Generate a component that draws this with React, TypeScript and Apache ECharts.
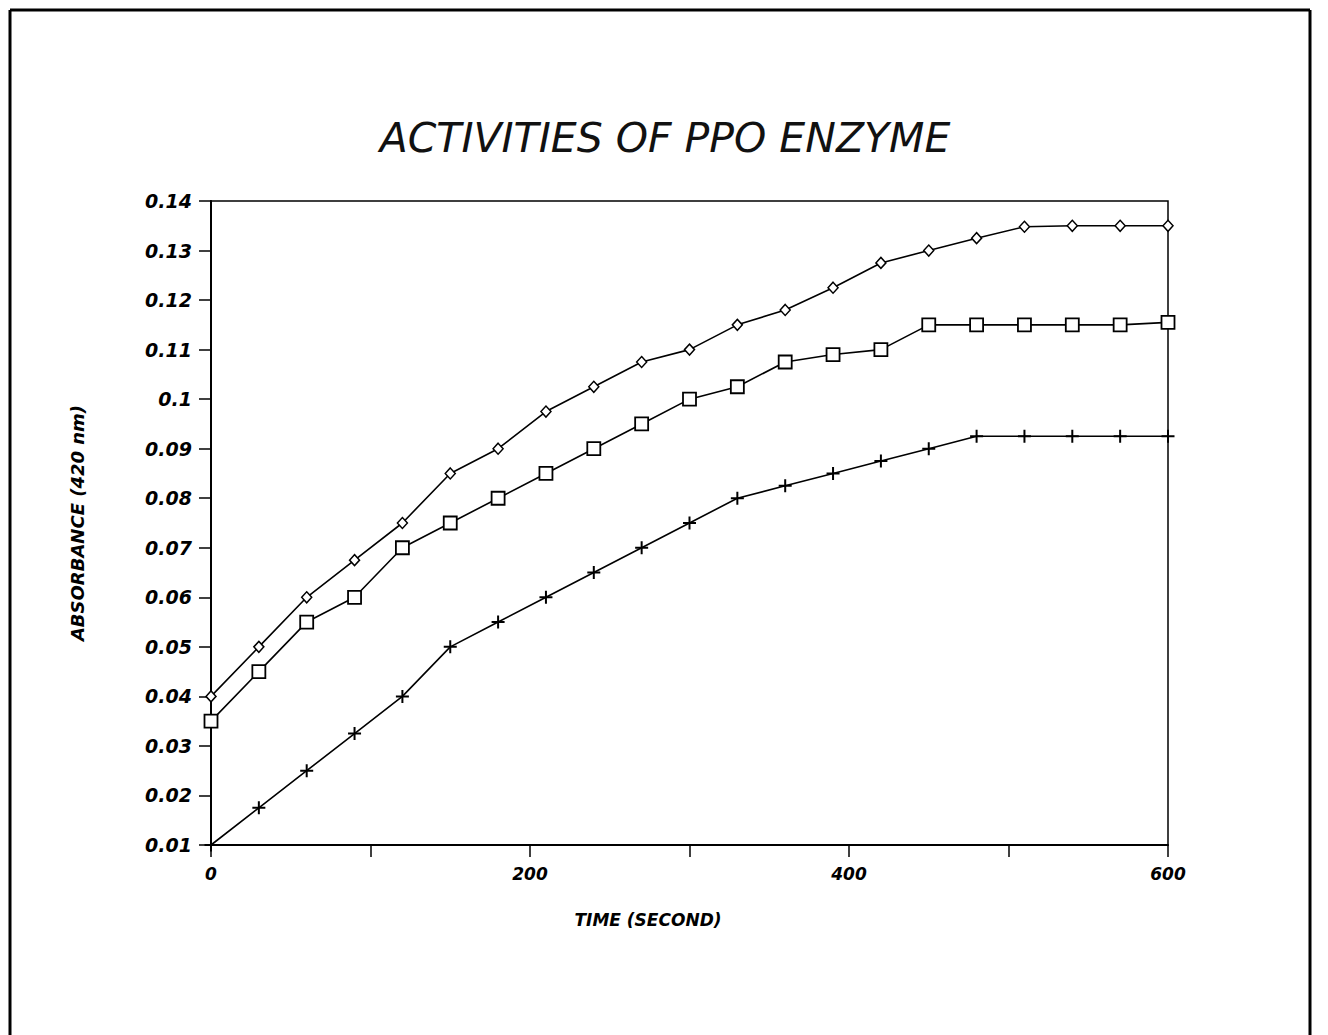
import React, { useEffect, useRef } from "react";
import * as echarts from "echarts";

const times = [0, 30, 60, 90, 120, 150, 180, 210, 240, 270, 300, 330, 360, 390, 420, 450, 480, 510, 540, 570, 600];
const diamondValues = [0.04, 0.05, 0.06, 0.0675, 0.075, 0.085, 0.09, 0.0975, 0.1025, 0.1075, 0.11, 0.115, 0.118, 0.1225, 0.1275, 0.13, 0.1325, 0.1348, 0.135, 0.135, 0.135];
const squareValues = [0.035, 0.045, 0.055, 0.06, 0.07, 0.075, 0.08, 0.085, 0.09, 0.095, 0.1, 0.1025, 0.1075, 0.109, 0.11, 0.115, 0.115, 0.115, 0.115, 0.115, 0.1155];
const plusValues = [0.01, 0.0175, 0.025, 0.0325, 0.04, 0.05, 0.055, 0.06, 0.065, 0.07, 0.075, 0.08, 0.0825, 0.085, 0.0875, 0.09, 0.0925, 0.0925, 0.0925, 0.0925, 0.0925];
const xLabelValues = [0, 200, 400, 600];

const FONT = "DejaVu Sans";

function pairs(vals: number[]) {
  return times.map((t, i) => [t, vals[i]]);
}

export default function App() {
  const ref = useRef<HTMLDivElement>(null);
  useEffect(() => {
    document.body.style.margin = "0";
    const chart = echarts.init(ref.current!, null, { renderer: "svg" });
    const lineStyle = { color: "#000", width: 1.6 };
    chart.setOption({
      animation: false,
      backgroundColor: "#fff",
      title: {
        text: "ACTIVITIES OF PPO ENZYME",
        left: 660,
        top: 112,
        textAlign: "center",
        textStyle: { fontFamily: FONT, fontSize: 41, fontStyle: "italic", fontWeight: "normal", color: "#111" },
      },
      graphic: [
        { type: "line", shape: { x1: 10, y1: 10, x2: 1310, y2: 10 }, style: { stroke: "#000", lineWidth: 3 } },
        { type: "line", shape: { x1: 10, y1: 10, x2: 10, y2: 1035 }, style: { stroke: "#000", lineWidth: 3 } },
        { type: "line", shape: { x1: 1310, y1: 10, x2: 1310, y2: 1035 }, style: { stroke: "#000", lineWidth: 3 } },
        {
          type: "text",
          x: 648,
          y: 920,
          style: {
            text: "TIME (SECOND)",
            align: "center",
            verticalAlign: "middle",
            fontFamily: FONT,
            fontSize: 17,
            fontStyle: "italic",
            fontWeight: "bold",
            fill: "#000",
          },
        },
      ],
      grid: { left: 211, top: 201, width: 957, height: 644, show: true, borderColor: "#000", borderWidth: 1.5, backgroundColor: "transparent" },
      xAxis: {
        type: "value",
        min: 0,
        max: 600,
        interval: 100,
        axisLine: { lineStyle: { color: "#000", width: 2 } },
        axisTick: { show: true, inside: false, length: 12, lineStyle: { color: "#000", width: 1.5 } },
        splitLine: { show: false },
        axisLabel: {
          margin: 20,
          fontFamily: FONT,
          fontSize: 17,
          fontStyle: "italic",
          fontWeight: "bold",
          color: "#000",
          formatter: (v: number) => (xLabelValues.includes(v) ? String(v) : ""),
        },
      },
      yAxis: {
        type: "value",
        min: 0.01,
        max: 0.14,
        interval: 0.01,
        name: "ABSORBANCE (420 nm)",
        nameLocation: "middle",
        nameGap: 125,
        nameRotate: 90,
        nameTextStyle: { fontFamily: FONT, fontSize: 18, fontStyle: "italic", fontWeight: "bold", color: "#000" },
        axisLine: { show: true, lineStyle: { color: "#000", width: 2 } },
        axisTick: { show: true, inside: false, length: 12, lineStyle: { color: "#000", width: 1.5 } },
        splitLine: { show: false },
        axisLabel: {
          margin: 19,
          fontFamily: FONT,
          fontSize: 19,
          fontStyle: "italic",
          fontWeight: "bold",
          color: "#000",
          formatter: (v: number) => String(+v.toFixed(3)),
        },
      },
      series: [
        {
          type: "line",
          data: pairs(diamondValues),
          symbol: "diamond",
          symbolSize: [10, 11],
          lineStyle,
          itemStyle: { color: "#fff", borderColor: "#000", borderWidth: 1.5 },
        },
        {
          type: "line",
          data: pairs(squareValues),
          symbol: "rect",
          symbolSize: 13,
          lineStyle,
          itemStyle: { color: "#fff", borderColor: "#000", borderWidth: 1.8 },
        },
        {
          type: "line",
          data: pairs(plusValues),
          symbol: "path://M5 0 L5 10 M0 5 L10 5",
          symbolSize: 13,
          lineStyle,
          itemStyle: { color: "none", borderColor: "#000", borderWidth: 2 },
        },
      ],
    });
    return () => chart.dispose();
  }, []);
  return <div ref={ref} style={{ position: "absolute", left: 0, top: 0, width: 1328, height: 1035 }} />;
}
